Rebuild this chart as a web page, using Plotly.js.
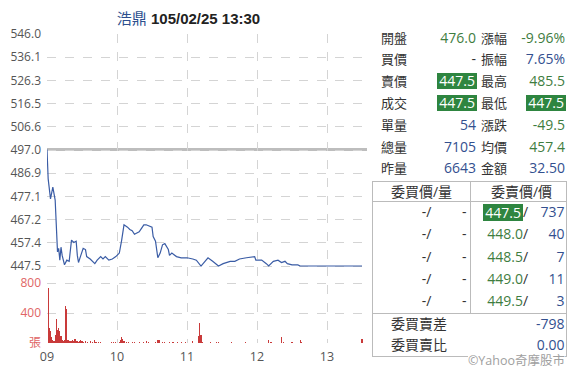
<!DOCTYPE html>
<html>
<head>
<meta charset="utf-8">
<script src="https://cdn.plot.ly/plotly-3.0.1.min.js"></script>
<style>
  html, body { margin:0; padding:0; background:#fff; }
  #wrap { position:relative; width:587px; height:376px; overflow:hidden; }
  #chart { position:absolute; left:0; top:0; width:587px; height:376px; }
  .t { position:absolute; white-space:nowrap; font-family:"Open Sans","Noto Sans CJK TC",sans-serif; font-size:14px; }
  .ln { position:absolute; background:#bbbbbb; }
</style>
</head>
<body>
<div id="wrap"><div id="chart"></div></div>
<script>
// ---------- data ----------
const tradeDate = "2016-02-25";
const stockName = "浩鼎";
const stamp = "105/02/25 13:30";
const refPrice = 497.0;

const priceTimes = ["09:00","09:01","09:03","09:05","09:07","09:08","09:09","09:10","09:11","09:12","09:13","09:15","09:17","09:19","09:21","09:23","09:25","09:26","09:27","09:29","09:31","09:33","09:34","09:37","09:41","09:43","09:46","09:48","09:50","09:53","09:56","09:59","10:02","10:04","10:06","10:09","10:11","10:13","10:15","10:17","10:19","10:21","10:23","10:25","10:27","10:30","10:31","10:33","10:35","10:37","10:39","10:41","10:44","10:45","10:47","10:51","10:55","11:00","11:05","11:08","11:12","11:18","11:22","11:27","11:31","11:37","11:41","11:45","11:51","11:58","11:59","12:04","12:08","12:10","12:14","12:18","12:21","12:24","12:26","12:30","12:35","12:37","13:30"];
const priceValues = [497.0,484.5,476.0,481.0,475.5,466.0,453.5,455.0,450.0,455.5,452.0,448.0,450.0,449.5,458.5,457.5,458.0,452.0,449.0,452.0,455.0,454.5,451.5,450.5,448.5,450.0,451.5,450.5,451.5,450.0,450.5,451.5,453.0,458.5,465.0,464.0,463.0,462.5,461.0,461.5,462.0,463.5,465.0,465.0,464.5,464.0,460.0,458.0,451.0,453.0,456.5,457.0,454.5,452.0,453.0,451.5,451.0,451.0,450.5,450.0,447.5,451.0,449.5,447.5,448.5,449.5,449.5,450.5,451.0,451.5,450.0,450.0,448.5,447.5,449.5,450.0,449.0,449.5,448.5,448.0,448.0,447.5,447.5];

const volTimes = ["09:01","09:02","09:03","09:04","09:05","09:06","09:07","09:08","09:09","09:10","09:11","09:12","09:13","09:14","09:15","09:16","09:17","09:18","09:19","09:20","09:21","09:22","09:23","09:24","09:25","09:26","09:27","09:28","09:29","09:30","09:31","09:33","09:35","09:37","09:39","09:41","09:42","09:44","09:46","09:55","09:57","09:59","10:02","10:03","10:04","10:05","10:06","10:08","10:10","10:13","10:15","10:19","10:23","10:25","10:27","10:33","10:35","10:36","10:39","10:41","10:45","10:48","10:52","10:55","10:59","11:05","11:10","11:11","11:12","11:13","11:20","11:25","11:27","11:38","11:50","12:10","12:12","12:21","12:23","12:30","12:37","12:38","13:30"];
const volValues = [730,200,165,80,45,30,110,320,180,200,155,90,35,30,45,495,455,45,30,25,30,35,25,55,25,30,20,25,45,25,20,25,20,30,15,45,20,15,10,10,12,10,20,45,80,50,30,20,15,15,10,12,15,25,10,20,35,45,20,15,15,12,15,10,10,25,100,270,110,20,15,20,15,10,10,45,15,75,20,10,45,15,50];

const priceTickVals = [447.5,457.35,467.2,477.05,486.9,496.75,506.6,516.45,526.3,536.15,546.0];
const priceTickText = ["447.5","457.4","467.2","477.1","486.9","497.0","506.6","516.5","526.3","536.1","546.0"];
const volTickVals = [0,400,800];
const volTickText = ["張","400","800"];
const hourTicks = ["09:00","10:00","11:00","12:00","13:00"];
const hourLabels = ["09","10","11","12","13"];

const leftLabels = ["開盤","買價","賣價","成交","單量","總量","昨量"];
const leftValues = ["476.0","-","447.5","447.5","54","7105","6643"];
const leftKinds  = ["g","d","box","box","b","b","b"];
const rightLabels = ["漲幅","振幅","最高","最低","漲跌","均價","金額"];
const rightValues = ["-9.96%","7.65%","485.5","447.5","-49.5","457.4","32.50"];
const rightKinds  = ["g","b","g","box","g","g","b"];

const bookHeaders = ["委買價/量","委賣價/價"];
const bidPrices = ["-","-","-","-","-"];
const bidVols = ["-","-","-","-","-"];
const askPrices = ["447.5","448.0","448.5","449.0","449.5"];
const askVols = ["737","40","7","11","3"];
const askKinds = ["box","g","g","g","g"];
const footLabels = ["委買賣差","委買賣比"];
const footValues = ["-798","0.00"];
const credit = "©Yahoo奇摩股市";

// ---------- chart ----------
const T = t => tradeDate + " " + t + ":00";
const C = { g:"#3f7d3f", b:"#33508f", d:"#333333", box:"#ffffff" };
const gridCol = "#d4d4d4";

// price panel reaches a little below 447.5 so the limit-down line is not clipped
const splitFrac = 0.2453;

const traces = [
  { type:"bar", x: volTimes.map(T), y: volValues, xaxis:"x", yaxis:"y2",
    marker:{ color:"#c93a3a", line:{ width:0 } }, width: 62000, hoverinfo:"skip" },
  { type:"scatter", mode:"lines", x: priceTimes.map(T), y: priceValues, xaxis:"x", yaxis:"y",
    line:{ color:"#3a5ca5", width:1.2 }, hoverinfo:"skip" }
];

const layout = {
  width:587, height:376,
  margin:{ l:47, r:220, t:34, b:33, pad:0 },
  paper_bgcolor:"#ffffff", plot_bgcolor:"#ffffff",
  showlegend:false,
  font:{ family:"Open Sans, Noto Sans CJK TC, sans-serif", size:12, color:"#555" },
  title:{
    text:'<span style="color:#2d4f8e">' + stockName + '</span> <b>' + stamp + '</b>',
    font:{ size:15, color:"#222", family:"Liberation Sans, Noto Sans CJK TC, sans-serif" },
    xref:"container", yref:"container", x:188.5/587, y:1-19/376, xanchor:"center", yanchor:"middle"
  },
  xaxis:{
    type:"date", anchor:"y2",
    range:[T("09:00"), tradeDate + " 13:34:17"],
    tickmode:"array", tickvals: hourTicks.map(T), ticktext: hourLabels,
    showgrid:true, gridcolor:gridCol, griddash:"dash", gridwidth:1,
    zeroline:false, showline:false, ticks:"", ticklabelstandoff:4,
    tickfont:{ size:12.5, color:"#555" }
  },
  yaxis:{
    domain:[splitFrac,1], range:[447.0,546.0],
    tickmode:"array", tickvals: priceTickVals, ticktext: priceTickText,
    showgrid:true, gridcolor:gridCol, griddash:"dash", gridwidth:1,
    zeroline:false, showline:false, ticks:"", ticklabelstandoff:5,
    tickfont:{ size:12, color:"#555" }
  },
  yaxis2:{
    domain:[0,splitFrac], range:[0,1010.7],
    tickmode:"array", tickvals: volTickVals, ticktext: volTickText,
    showgrid:true, gridcolor:gridCol, griddash:"dash", gridwidth:1,
    zeroline:false, showline:false, ticks:"", ticklabelstandoff:5,
    tickfont:{ size:12, color:"#e06565" }
  },
  shapes:[
    { type:"line", xref:"paper", x0:0, x1:1, yref:"y", y0:refPrice, y1:refPrice,
      line:{ color:"#bdbdbd", width:3 }, layer:"below" }
  ],
  bargap:0
};

Plotly.newPlot("chart", traces, layout, { displayModeBar:false, staticPlot:true });

// ---------- right panel ----------
const wrap = document.getElementById("wrap");
function txt(s, opts) {
  const d = document.createElement("div");
  d.className = "t";
  d.textContent = s;
  const h = opts.h || 16;
  d.style.height = h + "px";
  d.style.lineHeight = h + "px";
  d.style.top = (opts.y - h/2) + "px";
  if (opts.left !== undefined) d.style.left = opts.left + "px";
  if (opts.right !== undefined) d.style.right = (587 - opts.right) + "px";
  if (opts.center !== undefined) { d.style.left = opts.center + "px"; d.style.transform = "translateX(-50%)"; }
  d.style.color = opts.color || "#333";
  if (opts.size) d.style.fontSize = opts.size + "px";
  if (opts.bg) d.style.background = opts.bg;
  if (opts.pad) { d.style.paddingLeft = opts.pad + "px"; d.style.paddingRight = opts.pad + "px"; }
  wrap.appendChild(d);
  return d;
}
function line(x, y, w, h) {
  const d = document.createElement("div");
  d.className = "ln";
  d.style.left = x + "px"; d.style.top = y + "px";
  d.style.width = w + "px"; d.style.height = h + "px";
  wrap.appendChild(d);
}
function val(s, kind, right, y) {
  if (kind === "box") {
    txt(s, { right: right + 1, y: y, color:"#fff", bg:"#2e8540", h:16, pad:2 });
  } else {
    txt(s, { right: right, y: y, color: C[kind] });
  }
}

for (let i = 0; i < leftLabels.length; i++) {
  const y = 37.5 + 21.8 * i;
  txt(leftLabels[i], { left:381, y:y, size:13 });
  val(leftValues[i], leftKinds[i], 476, y);
  txt(rightLabels[i], { left:481, y:y, size:13 });
  val(rightValues[i], rightKinds[i], 565, y);
}

// order book table
line(372, 181, 195, 1);      // top
line(372, 201, 195, 1);      // under header
line(372, 313, 195, 1);      // above footer
line(372, 356, 195, 1);      // bottom
line(372, 181, 1, 176);      // left
line(566, 181, 1, 176);      // right
line(470, 181, 1, 132);      // middle divider

txt(bookHeaders[0], { center:421.5, y:191.5 });
txt(bookHeaders[1], { center:521.5, y:191.5 });
for (let i = 0; i < askPrices.length; i++) {
  const y = 212.3 + 22.1 * i;
  txt(bidPrices[i] + "/", { right:431.5, y:y });
  txt(bidVols[i], { right:466.5, y:y });
  if (askKinds[i] === "box") {
    txt(askPrices[i], { right:523, y:y, color:"#fff", bg:"#2e8540", h:17, pad:2 });
  } else {
    txt(askPrices[i], { right:523, y:y, color:C.g });
  }
  txt("/", { left:523, y:y, color:C.d });
  txt(askVols[i], { right:564.5, y:y, color:C.b });
}
txt(footLabels[0], { left:391, y:323.5 });
txt(footValues[0], { right:564.5, y:323.5, color:C.b });
txt(footLabels[1], { left:391, y:344.5, h:14 });
txt(footValues[1], { right:564.5, y:344.5, color:C.b, h:14 });
txt(credit, { right:565, y:360.5, color:"#a0a0a0", size:12.5, bg:"#fff", h:13 });
</script>
</body>
</html>
